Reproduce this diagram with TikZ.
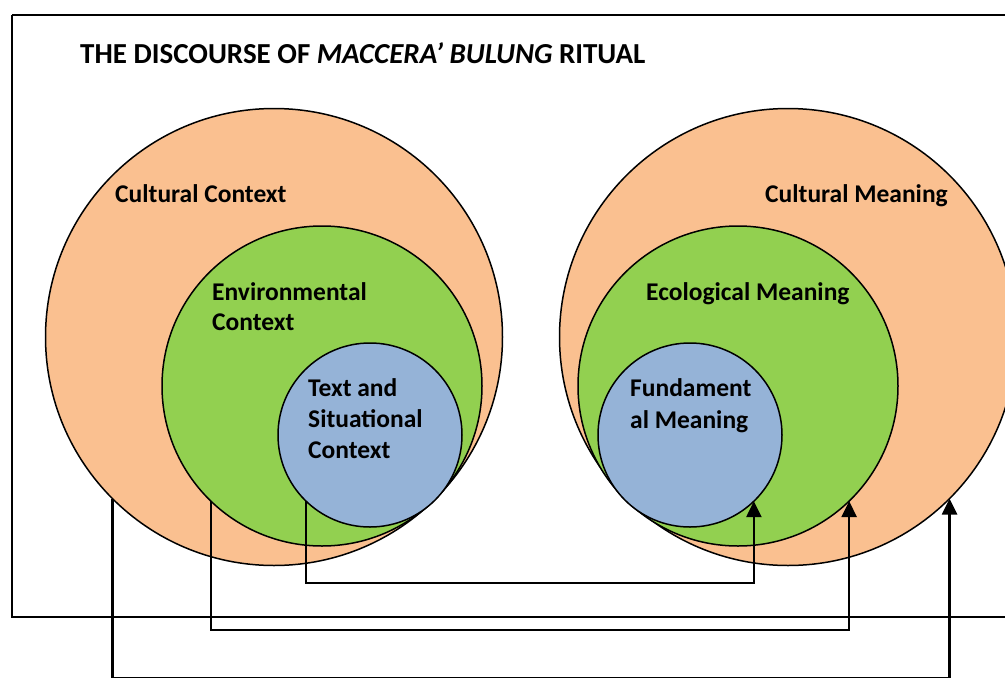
\documentclass[tikz,border=0pt]{standalone}
\usepackage{fontspec}
\setmainfont{Carlito}
\usetikzlibrary{arrows.meta}
\definecolor{orangefill}{HTML}{FAC090}
\definecolor{greenfill}{HTML}{92D050}
\definecolor{bluefill}{HTML}{95B3D7}
\tikzset{
  ring/.style={circle, draw=black, line width=1.5pt, inner sep=0pt, outer sep=0pt},
  outerring/.style={ring, fill=orangefill, minimum size=457pt},
  midring/.style={ring, fill=greenfill, minimum size=320pt},
  innerring/.style={ring, fill=bluefill, minimum size=184pt},
  lbl/.style={anchor=base west, inner sep=0pt, font=\fontsize{25.5}{30}\selectfont\bfseries},
  link/.style={line width=2.6pt, -{Triangle[width=15pt,length=16pt]}},
}
\begin{document}
\begin{tikzpicture}[x=1pt,y=-1pt]
\useasboundingbox (0,0) rectangle (1005,678);
% frame
\draw[line width=2.8pt] (12,15) -- (1040,15);
\draw[line width=2.8pt] (12,15) -- (12,617) -- (1040,617);
% title
\node[anchor=base west, inner sep=0pt, font=\fontsize{29}{34}\selectfont\bfseries] (title) at (80,63)
  {THE DISCOURSE OF \textit{MACCERA’ BULUNG} RITUAL};
% left circles
\node[outerring] (lo) at (274,337) {};
\node[midring] (lg) at (322,386) {};
\node[innerring] (lb) at (370,435) {};
% right circles
\node[outerring] (ro) at (788,337) {};
\node[midring] (rg) at (738,386) {};
\node[innerring] (rb) at (690,435) {};
% labels
\node[lbl] (cc) at (115,202) {Cultural Context};
\node[lbl] (ec1) at (212,300) {Environmental};
\node[lbl] (ec2) at (212,330) {Context};
\node[lbl] (ts1) at (308,396) {Text and};
\node[lbl] (ts2) at (308,427) {Situational};
\node[lbl] (ts3) at (308,458) {Context};
\node[lbl] (cm) at (765,202) {Cultural Meaning};
\node[lbl] (em) at (646,300) {Ecological Meaning};
\node[lbl] (fm1) at (630,396) {Fundament};
\node[lbl] (fm2) at (630,428) {al Meaning};
% connector levels
\coordinate (h1) at (0,583);
\coordinate (h2) at (0,630);
\coordinate (h3) at (0,678.3);
% connectors
\draw[link] (lb.-134) |- (h1 -| rb.-46) -- (rb.-46);
\draw[link] (lg.-134) |- (h2 -| rg.-46) -- (rg.-46);
\draw[link] (lo.-135) |- (h3 -| ro.-45) -- (ro.-45);
\end{tikzpicture}
\end{document}
